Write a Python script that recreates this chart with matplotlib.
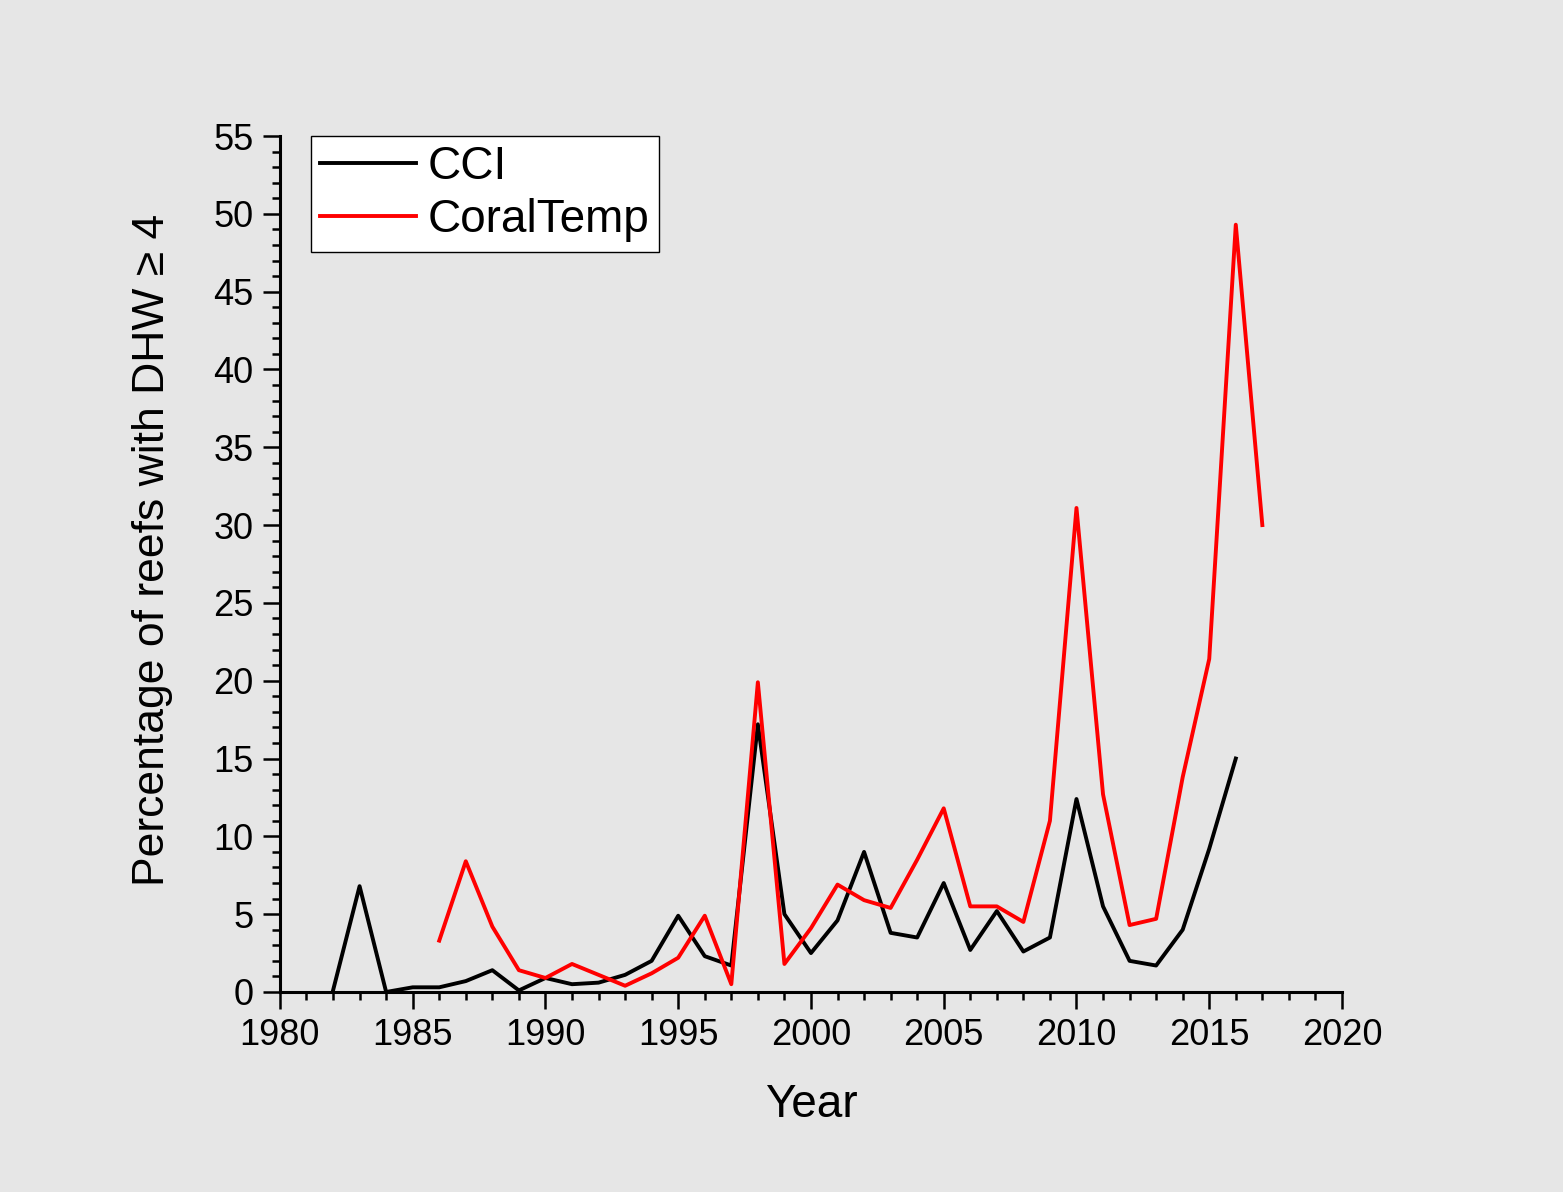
import matplotlib
matplotlib.use('Agg')
import matplotlib.pyplot as plt
from matplotlib.ticker import MultipleLocator

plt.rcParams['font.family'] = ['Liberation Sans', 'DejaVu Sans']

cci_years = list(range(1982, 2017))
cci_values = [0.1, 6.8, 0.0, 0.3, 0.3, 0.7, 1.4, 0.1, 0.9, 0.5,
              0.6, 1.1, 2.0, 4.9, 2.3, 1.7, 17.2, 5.0, 2.5, 4.6,
              9.0, 3.8, 3.5, 7.0, 2.7, 5.2, 2.6, 3.5, 12.4, 5.5,
              2.0, 1.7, 4.0, 9.2, 15.0]

ct_years = list(range(1986, 2018))
ct_values = [3.3, 8.4, 4.2, 1.4, 0.9, 1.8, 1.1, 0.4, 1.2, 2.2,
             4.9, 0.5, 19.9, 1.8, 4.1, 6.9, 5.9, 5.4, 8.5, 11.8,
             5.5, 5.5, 4.5, 11.0, 31.1, 12.7, 4.3, 4.7, 13.8, 21.4,
             49.3, 30.0]

bg = '#e6e6e6'
fig = plt.figure(figsize=(15.63, 11.92), dpi=100, facecolor=bg)
ax = fig.add_axes([0.1791, 0.1678, 0.6795, 0.7181], facecolor=bg)

ax.plot(cci_years, cci_values, color='black', lw=2.8, label='CCI')
ax.plot(ct_years, ct_values, color='#ff0000', lw=2.8, label='CoralTemp')

ax.set_xlim(1980, 2020)
ax.set_ylim(0, 55)
ax.xaxis.set_major_locator(MultipleLocator(5))
ax.xaxis.set_minor_locator(MultipleLocator(1))
ax.yaxis.set_major_locator(MultipleLocator(5))
ax.yaxis.set_minor_locator(MultipleLocator(1))

for s in ['top', 'right']:
    ax.spines[s].set_visible(False)
for s in ['left', 'bottom']:
    ax.spines[s].set_linewidth(2.2)

ax.tick_params(which='major', direction='out', length=12, width=1.8,
               labelsize=26, pad=7)
ax.tick_params(which='minor', direction='out', length=6, width=1.8)

ax.set_xlabel('Year', fontsize=33, labelpad=21)
ax.set_ylabel('Percentage of reefs with DHW \u2265 4', fontsize=32)
ax.yaxis.set_label_coords(-0.101, 0.516)

leg = ax.legend(loc='upper left', bbox_to_anchor=(0.029, 1.0), fontsize=33,
                frameon=True, fancybox=False, framealpha=1, edgecolor='black',
                handlelength=2.1, handletextpad=0.25, borderpad=0.2,
                labelspacing=0.2, borderaxespad=0.0)
leg.get_frame().set_linewidth(1.0)

fig.savefig('out.png', dpi=100, facecolor=bg)
